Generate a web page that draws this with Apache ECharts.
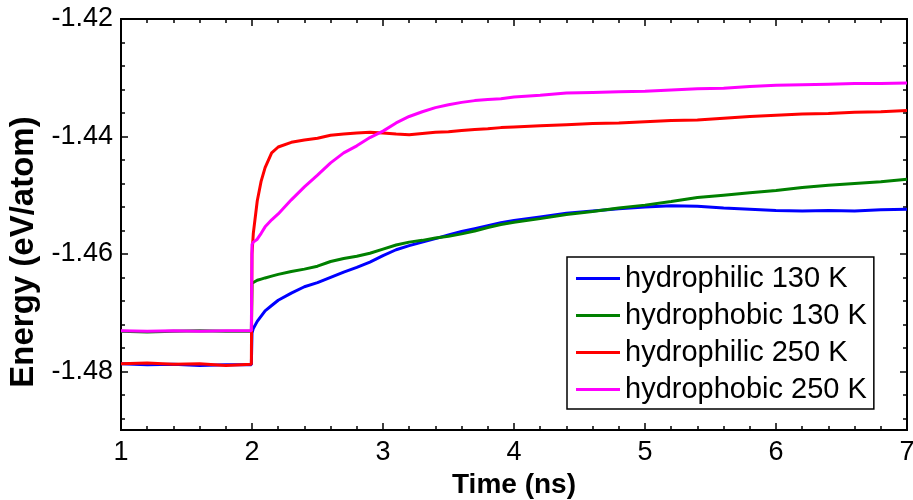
<!DOCTYPE html>
<html>
<head>
<meta charset="utf-8">
<script src="https://cdn.jsdelivr.net/npm/echarts@6/dist/echarts.min.js"></script>
<style>html,body{margin:0;padding:0;background:#fff}#c{width:913px;height:500px}</style>
</head>
<body>
<div id="c"></div>
<script>
const seriesNames = ['hydrophilic 130 K', 'hydrophobic 130 K', 'hydrophilic 250 K', 'hydrophobic 250 K'];
const times = [1.0,1.2,1.4,1.6,1.8,1.995,2.0,2.01,2.04,2.07,2.1,2.15,2.2,
  2.3,2.4,2.5,2.6,2.7,2.8,2.9,3.0,3.1,3.2,3.3,3.4,3.5,3.6,3.7,3.8,3.9,4.0,
  4.2,4.4,4.6,4.8,5.0,5.2,5.4,5.6,5.8,6.0,6.2,6.4,6.6,6.8,7.0];
const hydrophilic130 = [-1.4787,-1.4789,-1.4788,-1.4790,-1.4789,-1.4789,
  -1.4735,-1.4727,-1.4715,-1.4706,-1.4697,-1.4688,-1.4679,
  -1.4667,-1.4656,-1.4649,-1.4640,-1.4631,-1.4623,-1.4614,-1.4603,-1.4593,-1.4586,-1.4580,-1.4574,-1.4568,-1.4562,-1.4557,-1.4552,-1.4547,-1.4543,
  -1.4537,-1.4531,-1.4527,-1.4523,-1.4520,-1.4518,-1.4519,-1.4522,-1.4524,-1.4526,-1.4527,-1.4526,-1.4527,-1.4525,-1.4524];
const hydrophobic130 = [-1.4732,-1.4733,-1.4732,-1.4731,-1.4732,-1.4732,
  -1.4650,-1.4647,-1.4645,-1.4643,-1.4641,-1.4638,-1.4635,
  -1.4630,-1.4626,-1.4621,-1.4613,-1.4608,-1.4604,-1.4599,-1.4592,-1.4585,-1.4580,-1.4577,-1.4573,-1.4570,-1.4566,-1.4561,-1.4555,-1.4550,-1.4546,
  -1.4540,-1.4533,-1.4528,-1.4522,-1.4517,-1.4511,-1.4504,-1.4500,-1.4496,-1.4492,-1.4487,-1.4483,-1.4480,-1.4477,-1.4473];
const hydrophilic250 = [-1.4787,-1.4786,-1.4788,-1.4787,-1.4790,-1.4788,
  -1.4600,-1.4565,-1.4510,-1.4476,-1.4453,-1.4428,-1.4418,
  -1.4410,-1.4406,-1.4403,-1.4398,-1.4396,-1.4394,-1.4393,-1.4394,-1.4396,-1.4397,-1.4395,-1.4393,-1.4392,-1.4390,-1.4388,-1.4387,-1.4385,-1.4384,
  -1.4382,-1.4380,-1.4378,-1.4377,-1.4375,-1.4373,-1.4372,-1.4369,-1.4366,-1.4364,-1.4362,-1.4361,-1.4359,-1.4358,-1.4356];
const hydrophobic250 = [-1.4731,-1.4732,-1.4731,-1.4732,-1.4731,-1.4731,
  -1.4584,-1.4580,-1.4575,-1.4565,-1.4554,-1.4542,-1.4532,
  -1.4508,-1.4486,-1.4466,-1.4445,-1.4428,-1.4416,-1.4402,-1.4391,-1.4377,-1.4366,-1.4358,-1.4351,-1.4346,-1.4342,-1.4339,-1.4337,-1.4336,-1.4333,
  -1.4330,-1.4326,-1.4325,-1.4324,-1.4323,-1.4321,-1.4319,-1.4318,-1.4315,-1.4313,-1.4312,-1.4311,-1.4310,-1.4310,-1.4309];
const yMajorTicks = [-1.48, -1.46, -1.44, -1.42];
const yMinorTicks = [-1.488,-1.484,-1.476,-1.472,-1.468,-1.464,-1.456,-1.452,-1.448,-1.444,-1.436,-1.432,-1.428,-1.424];

const colors = ['#0000ff', '#008000', '#ff0000', '#ff00ff'];
const allValues = [hydrophilic130, hydrophobic130, hydrophilic250, hydrophobic250];
const FONT = 'Liberation Sans';

const chart = echarts.init(document.getElementById('c'), null, {renderer: 'canvas'});

const xBase = {
  type: 'value', min: 1, max: 7, interval: 1,
  splitLine: {show: false},
  axisLine: {show: true, onZero: false, lineStyle: {color: '#000', width: 2}},
  axisTick: {show: true, inside: true, length: 7, lineStyle: {color: '#000', width: 1.5}},
  minorTick: {show: true, splitNumber: 5, length: 4, lineStyle: {color: '#000', width: 1.5}},
  minorSplitLine: {show: false}
};
function yAxisDef(position, ticks, len, labels) {
  return {
    type: 'value', min: -1.49, max: -1.42, position: position,
    splitLine: {show: false},
    axisLine: {show: true, onZero: false, lineStyle: {color: '#000', width: 2}},
    axisTick: {show: true, inside: true, length: len, customValues: ticks, lineStyle: {color: '#000', width: 1.5}},
    axisLabel: labels ? {show: true, customValues: yMajorTicks, fontFamily: FONT, fontSize: 27, color: '#000', margin: 8,
      formatter: v => v.toFixed(2)} : {show: false}
  };
}

const option = {
  animation: false,
  backgroundColor: '#fff',
  grid: {left: 121, right: 6, top: 19, bottom: 70, containLabel: false, outerBoundsMode: 'none'},
  xAxis: [
    Object.assign({}, xBase, {
      position: 'bottom',
      name: 'Time (ns)', nameLocation: 'middle', nameGap: 37,
      nameTextStyle: {fontFamily: FONT, fontSize: 28, fontWeight: 'bold', color: '#000'},
      axisLabel: {show: true, fontFamily: FONT, fontSize: 27, color: '#000', margin: 9}
    }),
    Object.assign({}, xBase, {position: 'top', axisLabel: {show: false}})
  ],
  yAxis: [
    Object.assign(yAxisDef('left', yMajorTicks, 7, true), {
      name: 'Energy (eV/atom)', nameLocation: 'middle', nameGap: 78,
      nameTextStyle: {fontFamily: FONT, fontSize: 33, fontWeight: 'bold', color: '#000', padding: [0, 55, 0, 0]}
    }),
    yAxisDef('left', yMinorTicks, 4, false),
    yAxisDef('right', yMajorTicks, 7, false),
    yAxisDef('right', yMinorTicks, 4, false)
  ],
  legend: {
    orient: 'vertical', left: 567, top: 257,
    data: seriesNames,
    icon: 'rect', itemWidth: 44, itemHeight: 3, itemGap: 8, itemTextGap: 9,
    padding: [7, 7, 5, 9],
    borderColor: '#000', borderWidth: 1.5, borderRadius: 0,
    backgroundColor: '#fff',
    selectedMode: false,
    textStyle: {fontFamily: FONT, fontSize: 29, color: '#000', lineHeight: 28}
  },
  series: seriesNames.map((name, i) => ({
    name: name, type: 'line', xAxisIndex: 0, yAxisIndex: 0,
    showSymbol: false, symbol: 'none',
    lineStyle: {color: colors[i], width: 3},
    itemStyle: {color: colors[i]},
    data: times.map((t, k) => [t, allValues[i][k]])
  }))
};
chart.setOption(option);
</script>
</body>
</html>
